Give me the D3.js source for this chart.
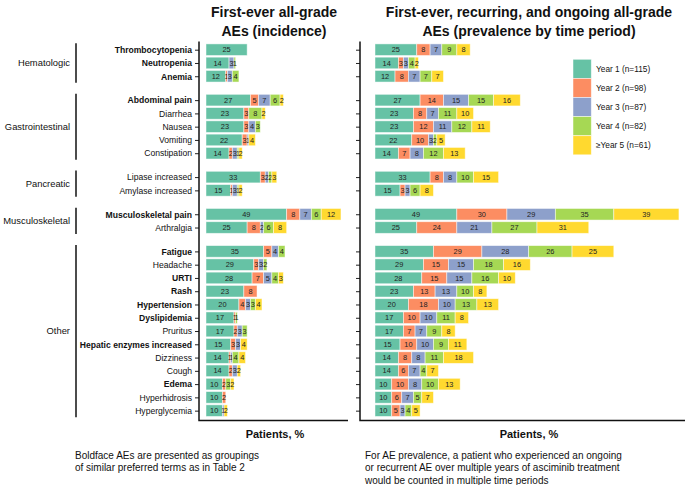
<!DOCTYPE html>
<html><head><meta charset="utf-8">
<script src="https://cdn.jsdelivr.net/npm/d3@7"></script>
<style>
html,body{margin:0;padding:0;background:#fff;}
svg{display:block;font-family:"Liberation Sans",Arial,sans-serif;}
</style></head>
<body><svg id="c" width="685" height="485"></svg>
<script>
const aeLabels = ["Thrombocytopenia","Neutropenia","Anemia","Abdominal pain","Diarrhea","Nausea","Vomiting","Constipation","Lipase increased","Amylase increased","Musculoskeletal pain","Arthralgia","Fatigue","Headache","URTI","Rash","Hypertension","Dyslipidemia","Pruritus","Hepatic enzymes increased","Dizziness","Cough","Edema","Hyperhidrosis","Hyperglycemia"];
const boldLabels = ["Thrombocytopenia","Neutropenia","Anemia","Abdominal pain","Musculoskeletal pain","Fatigue","URTI","Rash","Hypertension","Dyslipidemia","Hepatic enzymes increased","Edema"];
const groupNames = ["Hematologic","Gastrointestinal","Pancreatic","Musculoskeletal","Other"];
const groupSizes = [3,5,2,2,13];
const seriesNames = ["Year 1 (n=115)","Year 2 (n=98)","Year 3 (n=87)","Year 4 (n=82)","\u2265Year 5 (n=61)"];
const seriesColors = ["#66c2a5","#fc8d62","#8da0cb","#a6d854","#ffd92f"];
// incidence: [Y1,Y2,Y3,Y4,Y5]
const incidence = [
 [25,0,0,0,0],[14,0,3,1,0],[12,1,3,4,0],
 [27,5,7,6,2],[23,3,0,8,2],[23,3,4,3,0],[22,3,1,0,4],[14,2,3,1,2],
 [33,3,2,2,3],[15,1,3,1,2],
 [49,8,7,6,12],[25,8,2,6,8],
 [35,5,4,4,0],[29,3,3,2,0],[28,7,5,4,3],[23,8,0,0,0],[20,4,3,3,4],[17,1,0,1,0],[17,2,3,3,0],[15,3,3,0,4],[14,1,1,4,4],[14,2,3,0,2],[10,2,0,3,2],[10,2,0,0,0],[10,0,1,0,2]
];
const prevalence = [
 [25,8,7,9,8],[14,3,3,4,2],[12,8,7,7,7],
 [27,14,15,15,16],[23,8,7,11,10],[23,12,11,12,11],[22,10,3,2,5],[14,7,8,12,13],
 [33,8,8,10,15],[15,3,3,6,8],
 [49,30,29,35,39],[25,24,21,27,31],
 [35,29,28,26,25],[29,15,15,18,16],[28,15,15,16,10],[23,13,13,10,8],[20,18,10,13,13],[17,10,10,11,8],[17,7,7,9,8],[15,10,10,9,11],[14,8,8,11,18],[14,6,7,4,7],[10,10,8,10,13],[10,6,7,5,7],[10,5,3,4,5]
];
const titleLeft = ["First-ever all-grade","AEs (incidence)"];
const titleRight = ["First-ever, recurring, and ongoing all-grade","AEs (prevalence by time period)"];
const xTitle = "Patients, %";
const noteLeft = ["Boldface AEs are presented as groupings","of similar preferred terms as in Table 2"];
const noteRight = ["For AE prevalence, a patient who experienced an ongoing","or recurrent AE over multiple years of asciminib treatment","would be counted in multiple time periods"];

const svg = d3.select("#c");
const FONT = '"Liberation Sans",Arial,sans-serif';

// row slot positions (with gaps between groups)
const groupOf = [];
groupSizes.forEach((n,g)=>{for(let k=0;k<n;k++) groupOf.push(g);});
const slots = aeLabels.map((d,i)=> i + 0.8*groupOf[i]);
const y = d3.scaleLinear().domain([0, 24+0.8*4]).range([49.7, 49.7+27.2*13.27]);
const barH = 11.6;

function panel(data, x0, x1, maxV) {
  const x = d3.scaleLinear().domain([0,maxV]).range([x0,x1]);
  const g = svg.append("g");
  data.forEach((row,i)=>{
    let acc = 0;
    row.forEach((v,s)=>{
      if(v<=0) return;
      const a = acc; acc += v;
      g.append("rect")
        .attr("x", x(a)).attr("y", y(slots[i]) - barH/2)
        .attr("width", x(acc)-x(a)).attr("height", barH)
        .attr("fill", seriesColors[s])
        .attr("stroke","#fff").attr("stroke-opacity",0.6).attr("stroke-width",0.8);
      g.append("text")
        .attr("x", (x(a)+x(acc))/2).attr("y", y(slots[i]))
        .attr("dy","0.36em").attr("text-anchor","middle")
        .attr("font-size","7.4px").attr("fill","#222")
        .text(v);
    });
  });
  return x;
}

function yAxis(axisX, showLabels) {
  const ax = d3.axisLeft(y).tickValues(slots).tickSize(4).tickSizeOuter(0)
    .tickFormat((d,i)=> showLabels ? aeLabels[i] : "");
  const g = svg.append("g").attr("transform",`translate(${axisX},0)`).call(ax);
  g.select(".domain").remove();
  g.selectAll(".tick line").attr("stroke","#222").attr("stroke-width",1);
  g.selectAll(".tick text").attr("font-family",FONT).attr("font-size","8.6px").attr("fill","#111").attr("x",-7)
    .attr("font-weight",(d,i)=> boldLabels.includes(aeLabels[i]) ? "bold" : "normal");
}

panel(incidence, 206, 206+90*1.646, 90);
panel(prevalence, 375, 375+185*1.67, 185);
yAxis(199, true);
yAxis(360, false);

// panel frame lines
svg.append("path").attr("d","M199,41.5V420.5H348").attr("fill","none").attr("stroke","#111").attr("stroke-width",1.5);
svg.append("path").attr("d","M360,41.5V420.5H685").attr("fill","none").attr("stroke","#111").attr("stroke-width",1.5);

// group brackets and labels
let start = 0;
groupSizes.forEach((n,gi)=>{
  const yTop = y(slots[start]) - 6.5;
  const yBot = y(slots[start+n-1]) + 6.5;
  svg.append("line").attr("x1",76).attr("x2",76).attr("y1",yTop).attr("y2",yBot)
    .attr("stroke","#111").attr("stroke-width",1.5);
  svg.append("text").attr("x",70).attr("y",(yTop+yBot)/2).attr("dy","0.35em")
    .attr("text-anchor","end").attr("font-size","9.4px").attr("fill","#111").text(groupNames[gi]);
  start += n;
});

function multi(lines, x, y0, lh, size, weight, anchor) {
  lines.forEach((t,i)=>{
    svg.append("text").attr("x",x).attr("y",y0+i*lh).attr("text-anchor",anchor)
      .attr("font-size",size).attr("font-weight",weight).attr("fill","#111").text(t);
  });
}
multi(titleLeft, 274, 17, 18.5, "14px", "bold", "middle");
multi(titleRight, 529, 17, 18.5, "14px", "bold", "middle");
multi([xTitle], 275, 438, 0, "11px", "bold", "middle");
multi([xTitle], 529, 438, 0, "11px", "bold", "middle");
multi(noteLeft, 75, 458.5, 12.6, "10px", "normal", "start");
multi(noteRight, 365, 458.5, 12.6, "10px", "normal", "start");

// legend
const lg = svg.append("g");
seriesNames.forEach((n,i)=>{
  lg.append("rect").attr("x",573).attr("y",59.3+i*19.1).attr("width",18.3).attr("height",19.1)
    .attr("fill",seriesColors[i]).attr("stroke","#fff").attr("stroke-opacity",0.6).attr("stroke-width",0.8);
  lg.append("text").attr("x",596).attr("y",59.3+i*19.1+9.55).attr("dy","0.35em")
    .attr("font-size","8.3px").attr("fill","#111").text(n);
});
</script></body></html>
